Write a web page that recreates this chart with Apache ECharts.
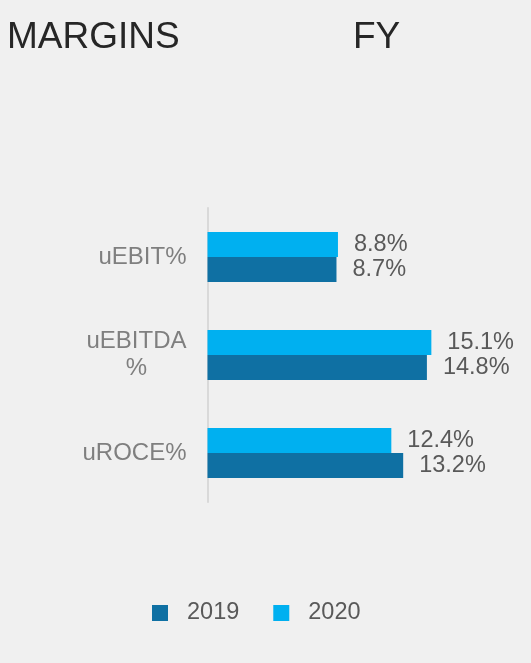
<!DOCTYPE html>
<html style="height: 100%">
<head>
  <meta charset="utf-8">
  <script src="https://cdn.jsdelivr.net/npm/echarts@6/dist/echarts.min.js"></script>
</head>
<body style="height: 100%; margin: 0; background: #f0f0f0">
  <div id="main" style="width: 531px; height: 663px"></div>
  <script type="text/javascript">
    // axis order, bottom to top
    var categories = ['uROCE%', 'uEBITDA%', 'uEBIT%'];
    var values2019 = [13.2, 14.8, 8.7];
    var values2020 = [12.4, 15.1, 8.8];
    var seriesNames = ['2019', '2020'];

    var myChart = echarts.init(document.getElementById('main'));
    var font = 'Liberation Sans, Arial, sans-serif';

    var labelOpt = {
      show: true,
      position: 'right',
      distance: 16,
      fontFamily: font,
      fontSize: 23.5,
      color: '#595959',
      formatter: function (p) { return p.value.toFixed(1) + '%'; }
    };

    var option = {
      backgroundColor: '#f0f0f0',
      animation: false,
      title: [{
        text: 'MARGINS',
        left: 2,
        top: 14,
        textStyle: { fontFamily: font, fontSize: 37, fontWeight: 'normal', color: '#262626' }
      }, {
        text: 'FY',
        left: 348,
        top: 14,
        textStyle: { fontFamily: font, fontSize: 37, fontWeight: 'normal', color: '#262626' }
      }],
      legend: {
        data: seriesNames,
        left: 147,
        top: 596,
        itemWidth: 16,
        itemHeight: 16,
        itemGap: 34,
        icon: 'rect',
        textStyle: { fontFamily: font, fontSize: 23.5, color: '#595959', padding: [0, 0, 0, 14] }
      },
      grid: {
        left: 207.5,
        right: 27,
        top: 208,
        bottom: 161
      },
      xAxis: {
        type: 'value',
        min: 0,
        max: 20,
        show: false
      },
      yAxis: {
        type: 'category',
        data: categories,
        axisLine: { show: true, lineStyle: { color: '#d9d9d9', width: 2 } },
        axisTick: { show: false },
        axisLabel: {
          margin: 21,
          fontFamily: font,
          fontSize: 24,
          color: '#7f7f7f',
          formatter: function (v) {
            if (v === 'uEBITDA%') return '{a|uEBITDA}\n{c|%}';
            return v;
          },
          rich: {
            a: { fontFamily: font, fontSize: 24, color: '#7f7f7f', lineHeight: 27 },
            c: { fontFamily: font, fontSize: 24, color: '#7f7f7f', lineHeight: 27, align: 'center' }
          }
        }
      },
      series: [{
        name: '2020',
        type: 'bar',
        data: values2020,
        barWidth: 25,
        barGap: '0%',
        itemStyle: { color: '#00b0f0' },
        label: labelOpt
      }, {
        name: '2019',
        type: 'bar',
        data: values2019,
        barWidth: 25,
        barGap: '0%',
        itemStyle: { color: '#0f70a3' },
        label: labelOpt
      }]
    };
    myChart.setOption(option);
  </script>
</body>
</html>
